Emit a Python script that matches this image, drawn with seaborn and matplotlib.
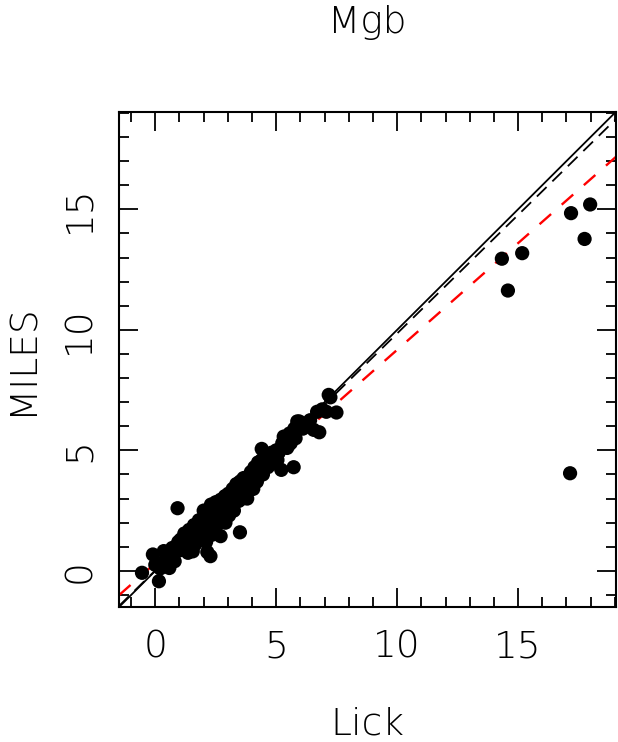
import matplotlib
matplotlib.use("Agg")
import matplotlib.pyplot as plt
import seaborn as sns
import pandas as pd
from matplotlib.ticker import MultipleLocator

lick = [-0.55, -0.10, 0.00, 0.15, 0.20, 0.35, 0.45, 0.58, 0.60, 0.75,
        0.80, 0.90, 0.92, 1.00, 1.05, 1.15, 1.20, 1.30, 1.35, 1.40,
        1.50, 1.55, 1.60, 1.65, 1.70, 1.80, 1.85, 1.90, 2.00, 2.00,
        2.05, 2.10, 2.15, 2.20, 2.25, 2.28, 2.30, 2.35, 2.40, 2.45,
        2.50, 2.55, 2.60, 2.65, 2.70, 2.75, 2.80, 2.85, 2.90, 2.95,
        3.00, 3.05, 3.10, 3.15, 3.20, 3.25, 3.30, 3.35, 3.40, 3.45,
        3.50, 3.50, 3.55, 3.60, 3.65, 3.70, 3.75, 3.80, 3.85, 3.90,
        3.95, 4.00, 4.05, 4.10, 4.15, 4.20, 4.25, 4.30, 4.40, 4.40,
        4.45, 4.50, 4.60, 4.65, 4.70, 4.76, 4.80, 4.85, 4.90, 5.00,
        5.05, 5.10, 5.21, 5.25, 5.31, 5.40, 5.45, 5.55, 5.60, 5.72,
        5.75, 5.80, 5.87, 5.95, 6.10, 6.20, 6.40, 6.55, 6.69, 6.78,
        6.90, 7.07, 7.17, 7.24, 7.49,
        1.25, 1.75, 2.12, 2.48, 2.62, 2.88, 3.08, 3.28, 3.62, 3.92,
        4.22, 4.55, 0.30, 0.70, 1.10, 1.45, 2.95, 3.42,
        0.50, 0.95, 1.38, 1.62, 1.95, 2.22, 2.38, 2.58, 2.78, 3.02,
        3.18, 3.38, 3.58, 3.78, 3.98, 4.12, 4.32, 4.62, 4.95, 5.15,
        5.50, 5.65, 6.00, 6.30, 1.70, 2.05, 2.70, 3.55,
        14.33, 14.58, 15.17, 17.19, 17.75, 17.98, 17.15]
miles = [-0.08, 0.68, 0.25, -0.43, 0.10, 0.82, 0.45, 0.12, 0.55, 0.75,
         0.40, 1.05, 2.60, 0.85, 1.30, 1.00, 1.55, 1.20, 0.75, 1.70,
         1.40, 0.81, 1.90, 1.10, 1.55, 2.10, 1.30, 1.80, 2.50, 1.50,
         2.00, 1.20, 0.78, 2.30, 1.80, 0.61, 2.75, 1.50, 2.10, 2.50,
         2.85, 1.90, 2.30, 2.70, 1.44, 2.20, 2.90, 2.50, 2.00, 3.00,
         2.60, 2.30, 3.20, 2.80, 3.40, 2.50, 3.00, 3.60, 3.20, 2.90,
         1.60, 3.70, 3.40, 3.00, 3.85, 3.50, 3.20, 3.00, 3.90, 3.60,
         4.10, 3.80, 3.40, 4.30, 4.00, 3.70, 4.50, 4.20, 5.06, 4.60,
         4.00, 4.40, 4.80, 4.30, 4.60, 4.80, 4.90, 4.45, 4.70, 5.00,
         4.60, 4.90, 4.19, 5.30, 5.57, 5.50, 5.10, 5.70, 5.30, 4.30,
         5.90, 5.50, 6.20, 6.20, 5.90, 6.10, 6.25, 5.85, 6.60, 5.75,
         6.70, 6.60, 7.30, 7.20, 6.57,
         1.10, 1.85, 2.40, 2.20, 2.55, 3.10, 2.90, 3.30, 3.55, 3.70,
         4.05, 4.55, 0.35, 0.95, 1.25, 1.30, 2.70, 3.45,
         0.60, 1.20, 1.45, 1.45, 2.15, 2.05, 2.60, 2.45, 2.65, 3.20,
         3.05, 3.55, 3.75, 3.60, 3.95, 4.20, 4.40, 4.55, 4.85, 5.05,
         5.20, 5.60, 5.95, 6.00, 1.70, 2.25, 2.95, 3.20,
         12.95, 11.63, 13.18, 14.84, 13.77, 15.20, 4.05]

df = pd.DataFrame({"Lick": lick, "MILES": miles})

# fitted lines: (intercept, slope)
one_to_one = (0.0, 1.0)
fit_clean = (0.02, 0.983)
fit_all = (0.32, 0.885)

lims = [-1.5, 19.05]

sns.set_style("ticks")
plt.rcParams["font.family"] = ["DejaVu Sans"]
plt.rcParams["font.weight"] = "light"
plt.rcParams["text.color"] = "black"
plt.rcParams["axes.labelcolor"] = "black"
plt.rcParams["xtick.color"] = "black"
plt.rcParams["ytick.color"] = "black"

fig = plt.figure(figsize=(6.18, 7.42), dpi=100)
ax = fig.add_axes([0.1926, 0.1819, 0.8042, 0.6676])

sns.scatterplot(data=df, x="Lick", y="MILES", ax=ax, color="black",
                s=105, edgecolor="none", zorder=3)

ax.axline((0, one_to_one[0]), slope=one_to_one[1], color="black", lw=1.3)
ax.axline((0, fit_clean[0]), slope=fit_clean[1], color="black", lw=1.3,
          dashes=(7.5, 4.5))
ax.axline((0, fit_all[0]), slope=fit_all[1], color="red", lw=1.7,
          dashes=(6.5, 6.0))

ax.set_xlim(lims)
ax.set_ylim(lims)

ax.xaxis.set_major_locator(MultipleLocator(5))
ax.yaxis.set_major_locator(MultipleLocator(5))
ax.xaxis.set_minor_locator(MultipleLocator(1))
ax.yaxis.set_minor_locator(MultipleLocator(1))
ax.tick_params(which="both", direction="in", top=True, right=True,
               width=1.3, color="black", labelcolor="black", labelsize=27)
ax.tick_params(which="major", length=14)
ax.tick_params(which="minor", length=7)
ax.tick_params(axis="x", pad=16)
ax.tick_params(axis="y", pad=16)
for lbl in ax.get_yticklabels():
    lbl.set_rotation(90)
    lbl.set_va("center")
for sp in ax.spines.values():
    sp.set_linewidth(1.5)
    sp.set_color("black")

ax.set_xlabel("Lick", fontsize=27, fontweight="light", color="black")
ax.set_ylabel("MILES", fontsize=27, fontweight="light", color="black")
ax.xaxis.set_label_coords(0.5, -0.20)
ax.yaxis.set_label_coords(-0.16, 0.5)

fig.text(0.595, 0.97, "Mgb", ha="center", va="center", fontsize=27,
         fontweight="light", color="black")

fig.savefig("out.png", dpi=100)
